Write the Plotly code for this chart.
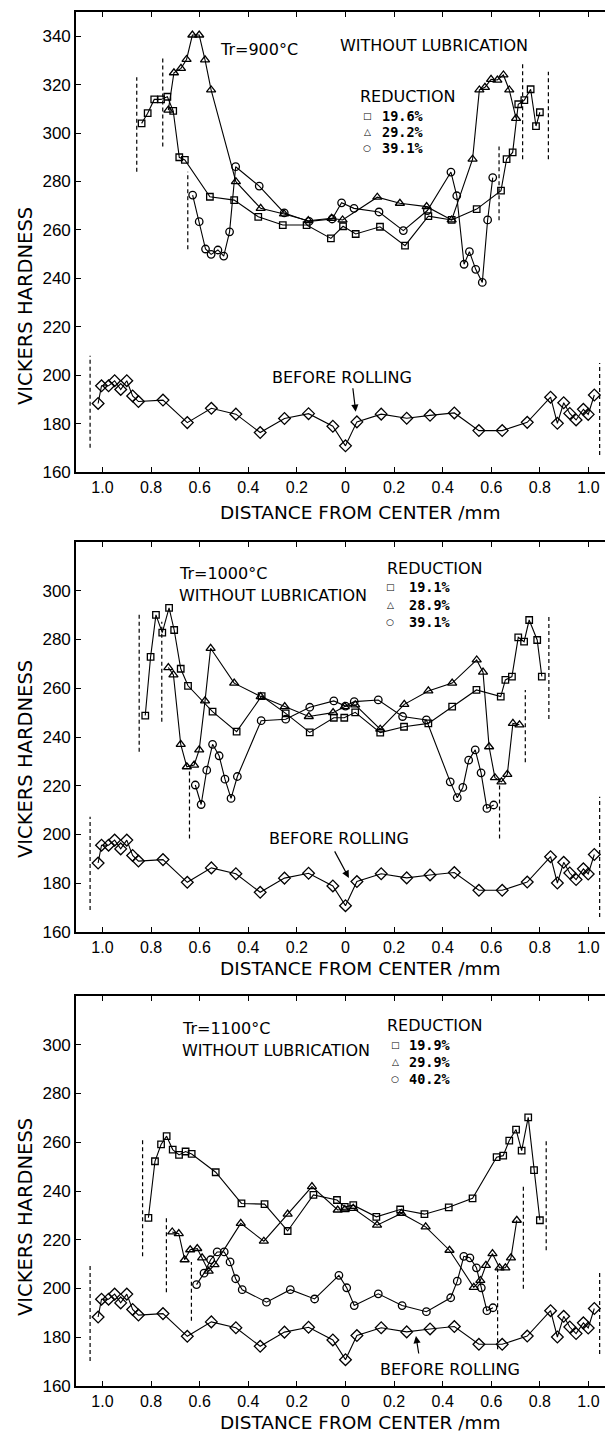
import plotly.graph_objects as go

# ---------------- data ----------------
tick_vals = [-1.0, -0.8, -0.6, -0.4, -0.2, 0.0, 0.2, 0.4, 0.6, 0.8, 1.0]
tick_text = ["1.0", "0.8", "0.6", "0.4", "0.2", "0", "0.2", "0.4", "0.6", "0.8", "1.0"]

before_x = [-1.018, -1.004, -0.975, -0.950, -0.925, -0.900, -0.876, -0.852, -0.751, -0.651, -0.552,
            -0.451, -0.351, -0.251, -0.152, -0.052, 0.0, 0.047, 0.147, 0.252, 0.348, 0.448, 0.549,
            0.645, 0.748, 0.844, 0.872, 0.898, 0.923, 0.949, 0.979, 0.999, 1.024]
before_y = [188.3, 195.6, 195.6, 197.7, 194.1, 197.7, 191.4, 189.1, 189.7, 180.4, 186.3,
            183.9, 176.3, 182.1, 184.1, 178.9, 170.8, 180.7, 183.9, 182.2, 183.4, 184.4, 177.1,
            177.1, 180.5, 190.9, 180.1, 188.6, 184.2, 181.5, 185.9, 183.8, 191.8]

# Panel 1: Tr = 900 C
p1_sq_x = [-0.839, -0.814, -0.787, -0.759, -0.733, -0.709, -0.684, -0.661, -0.558, -0.458, -0.359,
           -0.258, -0.160, -0.060, -0.010, 0.042, 0.142, 0.245, 0.341, 0.437, 0.540, 0.640, 0.663,
           0.688, 0.711, 0.736, 0.762, 0.784, 0.800]
p1_sq_y = [304.0, 308.2, 313.9, 313.9, 315.0, 309.2, 290.0, 288.9, 273.7, 272.3, 265.4,
           262.0, 262.0, 256.5, 261.5, 258.3, 261.3, 253.5, 265.7, 264.1, 268.6, 276.2, 289.2,
           292.0, 311.9, 313.6, 318.1, 302.9, 308.6]
p1_tr_x = [-0.729, -0.706, -0.677, -0.654, -0.630, -0.602, -0.578, -0.553, -0.451, -0.349, -0.253,
           -0.153, -0.057, -0.012, 0.131, 0.224, 0.334, 0.437, 0.523, 0.551, 0.574, 0.599, 0.625,
           0.650, 0.674, 0.702]
p1_tr_y = [309.5, 324.9, 326.7, 330.4, 340.5, 340.5, 330.2, 317.8, 279.9, 268.9, 266.6,
           263.8, 264.8, 264.1, 273.5, 271.0, 269.6, 264.1, 289.2, 317.8, 318.9, 322.2, 321.9,
           324.0, 317.8, 306.1]
p1_ci_x = [-0.629, -0.602, -0.576, -0.553, -0.525, -0.501, -0.477, -0.452, -0.355, -0.252, -0.150,
           -0.055, -0.016, 0.035, 0.138, 0.238, 0.337, 0.434, 0.458, 0.488, 0.510, 0.536, 0.563,
           0.585, 0.606]
p1_ci_y = [274.4, 263.4, 252.1, 249.9, 251.7, 249.2, 259.2, 286.1, 278.1, 267.0, 263.5,
           264.5, 271.2, 268.9, 267.4, 259.7, 268.0, 283.9, 274.1, 245.8, 251.0, 243.7, 238.3,
           264.1, 281.6]
p1_edge_x = [-1.051, -0.859, -0.752, -0.649, 0.632, 0.729, 0.835, 1.046]
p1_edge_lo = [170.0, 284.0, 294.4, 252.0, 264.0, 289.2, 289.2, 167.0]
p1_edge_hi = [208.0, 323.0, 331.3, 284.0, 294.4, 329.5, 325.3, 205.0]

# Panel 2: Tr = 1000 C
p2_sq_x = [-0.824, -0.802, -0.780, -0.754, -0.726, -0.705, -0.678, -0.648, -0.547, -0.448, -0.345,
           -0.246, -0.147, -0.048, -0.005, 0.040, 0.143, 0.241, 0.341, 0.439, 0.539, 0.639, 0.658,
           0.685, 0.711, 0.735, 0.756, 0.789, 0.808]
p2_sq_y = [248.8, 272.9, 290.1, 282.8, 293.0, 283.9, 268.0, 261.0, 250.4, 242.2, 256.8,
           249.7, 241.9, 247.9, 247.9, 250.1, 241.8, 244.2, 245.6, 252.5, 259.3, 256.6, 263.4,
           264.8, 280.9, 279.1, 288.0, 279.8, 264.8]
p2_tr_x = [-0.729, -0.708, -0.678, -0.653, -0.623, -0.602, -0.578, -0.555, -0.458, -0.349, -0.250,
           -0.151, -0.051, -0.003, 0.040, 0.143, 0.242, 0.341, 0.439, 0.540, 0.566, 0.591, 0.615,
           0.642, 0.666, 0.689, 0.716]
p2_tr_y = [268.5, 265.5, 237.0, 227.8, 228.5, 234.7, 254.8, 276.4, 262.1, 256.6, 252.5,
           248.4, 250.0, 252.5, 253.2, 243.2, 253.4, 258.9, 262.1, 271.6, 266.6, 236.0, 223.3,
           221.6, 224.7, 245.6, 245.0]
p2_ci_x = [-0.618, -0.594, -0.571, -0.547, -0.520, -0.496, -0.471, -0.445, -0.347, -0.246, -0.147,
           -0.048, 0.000, 0.036, 0.135, 0.235, 0.333, 0.431, 0.460, 0.483, 0.507, 0.534, 0.558,
           0.582, 0.610]
p2_ci_y = [220.3, 212.3, 226.4, 237.0, 232.3, 222.7, 214.8, 223.8, 246.7, 247.3, 252.2,
           254.8, 252.7, 254.5, 255.2, 248.4, 247.0, 221.6, 215.1, 219.3, 230.5, 234.7, 225.3,
           210.7, 212.1]
p2_edge_x = [-1.051, -0.849, -0.756, -0.642, 0.634, 0.740, 0.837, 1.046]
p2_edge_lo = [169.0, 234.0, 246.3, 198.4, 198.4, 229.6, 247.4, 166.2]
p2_edge_hi = [207.3, 290.3, 287.3, 226.4, 223.7, 259.3, 289.4, 215.5]

# Panel 3: Tr = 1100 C
p3_sq_x = [-0.811, -0.784, -0.759, -0.736, -0.711, -0.685, -0.658, -0.633, -0.534, -0.428, -0.333,
           -0.238, -0.132, -0.035, -0.003, 0.032, 0.127, 0.225, 0.325, 0.425, 0.523, 0.622, 0.649,
           0.674, 0.702, 0.725, 0.752, 0.776, 0.800]
p3_sq_y = [229.0, 252.2, 259.1, 262.5, 257.0, 254.8, 256.2, 255.2, 247.7, 234.9, 234.6,
           223.6, 238.4, 236.3, 233.5, 234.2, 229.4, 232.4, 230.5, 233.3, 237.0, 253.9, 254.5,
           260.7, 265.2, 256.6, 270.2, 248.6, 228.0]
p3_tr_x = [-0.713, -0.686, -0.662, -0.639, -0.610, -0.590, -0.563, -0.539, -0.431, -0.336, -0.238,
           -0.138, -0.032, -0.003, 0.032, 0.130, 0.230, 0.330, 0.428, 0.528, 0.555, 0.578, 0.605,
           0.634, 0.658, 0.681, 0.705]
p3_tr_y = [223.2, 222.5, 211.8, 215.9, 216.4, 212.6, 207.1, 209.8, 226.7, 219.4, 230.5,
           241.8, 232.2, 232.4, 232.9, 226.0, 230.8, 225.3, 215.7, 200.5, 203.3, 209.5, 214.3,
           208.5, 208.5, 212.6, 228.0]
p3_ci_x = [-0.613, -0.582, -0.555, -0.528, -0.499, -0.475, -0.452, -0.425, -0.325, -0.227, -0.127,
           -0.027, 0.005, 0.036, 0.135, 0.233, 0.333, 0.433, 0.460, 0.487, 0.512, 0.539, 0.559,
           0.582, 0.607]
p3_ci_y = [201.6, 206.3, 211.8, 215.0, 215.0, 210.9, 204.0, 199.5, 194.4, 199.5, 195.7,
           205.4, 200.3, 193.0, 197.8, 193.0, 190.5, 196.2, 203.0, 213.2, 212.6, 208.5, 200.3,
           190.9, 192.1]
p3_edge_x = [-1.051, -0.835, -0.737, -0.634, 0.626, 0.732, 0.826, 1.046]
p3_edge_lo = [170.3, 213.2, 198.5, 186.8, 175.1, 199.9, 215.7, 173.1]
p3_edge_hi = [210.2, 262.0, 230.1, 210.9, 208.5, 242.0, 261.0, 207.4]

temps = ["Tr=900°C", "Tr=1000°C", "Tr=1100°C"]
reductions = [["19.6%", "29.2%", "39.1%"], ["19.1%", "28.9%", "39.1%"], ["19.9%", "29.9%", "40.2%"]]
y_max = [350, 320, 320]

panels = [
    dict(sq=(p1_sq_x, p1_sq_y), tr=(p1_tr_x, p1_tr_y), ci=(p1_ci_x, p1_ci_y),
         edge=(p1_edge_x, p1_edge_lo, p1_edge_hi)),
    dict(sq=(p2_sq_x, p2_sq_y), tr=(p2_tr_x, p2_tr_y), ci=(p2_ci_x, p2_ci_y),
         edge=(p2_edge_x, p2_edge_lo, p2_edge_hi)),
    dict(sq=(p3_sq_x, p3_sq_y), tr=(p3_tr_x, p3_tr_y), ci=(p3_ci_x, p3_ci_y),
         edge=(p3_edge_x, p3_edge_lo, p3_edge_hi)),
]

# ---------------- layout geometry ----------------
W, H = 605, 1433
ML, MR, MT, MB = 76, 0, 12, 47
PW, PH = W - ML - MR, H - MT - MB
panel_px = [(12, 472), (542, 932), (996, 1386)]  # top, bottom in pixels


def pxx(x):
    return (x - ML) / PW


def pxy(y):
    return (H - MB - y) / PH


BLACK = "#000000"
YTICKFONT = dict(family="Liberation Sans, Arial, sans-serif", size=17, color=BLACK)
XTICKFONT = dict(family="Liberation Sans, Arial, sans-serif", size=16, color=BLACK)
TXT = "DejaVu Sans, Verdana, sans-serif"

fig = go.Figure()

sym = {"sq": ("square-open", 6.5), "tr": ("triangle-up-open", 8), "ci": ("circle-open", 7.5)}

for i, p in enumerate(panels):
    xa = "x" if i == 0 else f"x{i+1}"
    ya = "y" if i == 0 else f"y{i+1}"
    # dashed edge lines
    ex, elo, ehi = p["edge"]
    dx, dy = [], []
    for x, lo, hi in zip(ex, elo, ehi):
        dx += [x, x, None]
        dy += [lo, hi, None]
    fig.add_trace(go.Scatter(x=dx, y=dy, mode="lines", xaxis=xa, yaxis=ya, showlegend=False,
                             line=dict(color=BLACK, width=1.2, dash="4px,3px"), hoverinfo="skip"))
    # before rolling
    fig.add_trace(go.Scatter(x=before_x, y=before_y, mode="lines+markers", xaxis=xa, yaxis=ya,
                             showlegend=False, line=dict(color=BLACK, width=1.1),
                             marker=dict(symbol="diamond-open", size=9, color=BLACK,
                                         line=dict(width=1.3, color=BLACK))))
    for key in ["sq", "tr", "ci"]:
        xs, ys = p[key]
        s, sz = sym[key]
        fig.add_trace(go.Scatter(x=xs, y=ys, mode="lines+markers", xaxis=xa, yaxis=ya,
                                 showlegend=False, line=dict(color=BLACK, width=1.1),
                                 marker=dict(symbol=s, size=sz, color=BLACK,
                                             line=dict(width=1.3, color=BLACK))))

layout = dict(width=W, height=H, margin=dict(l=ML, r=MR, t=MT, b=MB),
              paper_bgcolor="white", plot_bgcolor="white", showlegend=False)

for i in range(3):
    top, bot = panel_px[i]
    sx = "" if i == 0 else str(i + 1)
    layout["xaxis" + sx] = dict(domain=[0, 1], anchor="y" + sx, range=[-1.109, 1.068],
                                tickvals=tick_vals, ticktext=tick_text, ticks="inside", ticklen=5,
                                tickwidth=1.3, tickcolor=BLACK, showline=True, linecolor=BLACK,
                                linewidth=1.6, mirror="ticks", showgrid=False, zeroline=False,
                                tickfont=XTICKFONT)
    layout["yaxis" + sx] = dict(domain=[pxy(bot), pxy(top)], anchor="x" + sx,
                                range=[160, y_max[i]], tickvals=list(range(160, y_max[i], 20)),
                                ticks="inside", ticklen=5, tickwidth=1.3, tickcolor=BLACK,
                                showline=True, linecolor=BLACK, linewidth=1.6, mirror=False,
                                showgrid=False, zeroline=False, tickfont=YTICKFONT)

ann = []


def text(x, y, s, size=16, xanchor="left", family=TXT, angle=0):
    ann.append(dict(x=pxx(x), y=pxy(y), xref="paper", yref="paper", text=s, showarrow=False,
                    xanchor=xanchor, yanchor="middle", textangle=angle,
                    font=dict(family=family, size=size, color=BLACK)))


# axis titles
for yc in [512, 968, 1422]:
    text(360, yc, "DISTANCE FROM CENTER /mm", size=18.5, xanchor="center")
for yc in [306, 759, 1217]:
    text(25, yc, "VICKERS HARDNESS", size=19.5, xanchor="center", angle=-90)

# panel labels
temp_pos = [(218, 50), (177, 573), (180, 1028)]
lub_pos = [(338, 45), (177, 595), (180, 1050)]
red_pos = [(358, 96), (385, 568), (385, 1025)]
row_pos = [(367, 380, [116, 132, 148]), (390, 407, [587, 605, 622]), (395, 407, [1045, 1062, 1079])]
symbols = ["□", "△", "○"]
for i in range(3):
    text(*temp_pos[i], temps[i])
    text(*lub_pos[i], "WITHOUT LUBRICATION")
    text(*red_pos[i], "REDUCTION")
    sxp, txp, rows = row_pos[i]
    for sym_c, lab, yy in zip(symbols, reductions[i], rows):
        text(sxp, yy, sym_c, size=9, xanchor="center")
        text(txp, yy, "<b>" + lab + "</b>", size=13.5, family="DejaVu Sans Mono, monospace")

# BEFORE ROLLING labels with arrows
br_pos = [(342, 378), (339, 838), (450, 1369)]
for i in range(3):
    text(br_pos[i][0], br_pos[i][1], "BEFORE ROLLING", size=16, xanchor="center")
arrows = [(0.042, 184.9, -3, -25), (0.014, 182.2, -15, -28), (0.29, 180.5, 3, 19)]
for i, (ax_, ay_, dxp, dyp) in enumerate(arrows):
    sx = "" if i == 0 else str(i + 1)
    ann.append(dict(x=ax_, y=ay_, xref="x" + sx, yref="y" + sx, text="", showarrow=True,
                    ax=dxp, ay=dyp, axref="pixel", ayref="pixel", arrowhead=2, arrowsize=1.2,
                    arrowwidth=1.2, arrowcolor=BLACK, standoff=0))

layout["annotations"] = ann
fig.update_layout(**layout)
fig.write_html("out.html")
